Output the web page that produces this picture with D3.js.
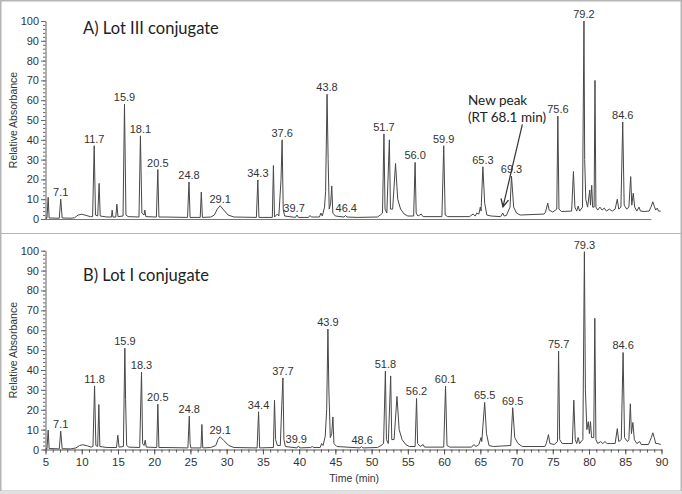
<!DOCTYPE html>
<html><head><meta charset="utf-8">
<script src="https://cdn.jsdelivr.net/npm/d3@7"></script>
<style>body{margin:0;background:#fff}svg{display:block}</style>
</head><body>
<svg id="c" width="682" height="494"></svg>
<script>
// ---- data (time in min, relative absorbance) ----
const traceA = [[5.0,0.4],[5.2,0.4],[5.37,11],[5.5,0.5],[6.9,0.4],[7.1,10],[7.3,0.5],
[8.5,0.4],[9.0,0.6],[9.5,2],[10.0,2.4],[10.6,1.8],[11.2,1.2],
[11.5,1.2],[11.72,37],[11.9,2],[12.2,1.5],[12.4,18],[12.55,1.5],
[13.5,1],[14.1,1],[14.2,4.5],[14.3,1],[14.7,1],[14.85,7.5],[15.0,1.2],
[15.7,1.5],[15.9,58],[16.1,2],[16.4,1.2],
[17.9,1],[18.1,42],[18.3,3],[18.6,2],[18.7,4.5],[18.85,1.2],
[20.3,1],[20.5,25],[20.65,1],[21.5,1],
[24.6,0.8],[24.8,18.7],[24.95,0.8],
[26.35,0.8],[26.5,13.6],[26.65,0.8],
[27.8,1],[28.3,2],[28.7,5],[29.1,6.7],[29.6,4.5],[30.2,2],[31,1],
[34.1,0.8],[34.3,19.7],[34.45,0.8],
[36.3,0.8],[36.45,27],[36.6,1],[37.0,2.5],[37.2,1.5],[37.5,20],[37.65,40],[37.8,5],[38.0,1.5],
[39.5,0.8],[39.7,2],[39.9,0.8],
[41.3,0.8],[41.5,1.8],[41.7,1],[42.8,1],[43.0,3],[43.2,1.5],[43.5,6],[43.65,14],[43.85,63],[44.0,30],[44.15,5],[44.35,8],[44.5,16.7],[44.65,3],[45,1.5],
[46.2,1],[46.4,1.8],[46.6,1],[48,0.8],[50.8,1],[51.2,2],
[51.5,3],[51.7,43],[51.85,5],[52.1,3],[52.45,40],[52.6,5],[52.9,5],[53.3,28],[53.6,10],[54,5],[54.5,2.5],[55,1.5],
[55.8,1.5],[56.0,28.6],[56.15,3],[56.4,1.5],[56.85,2.5],[57.1,1.2],
[59.7,1.2],[59.95,37],[60.15,2],[60.5,1.2],
[63.5,1.2],[64.0,2.5],[64.3,1.5],[64.5,3],[64.8,2.5],[65.0,6],[65.1,4],[65.35,26.4],[65.6,8],[65.9,2],[66.5,1.5],
[67.8,1.2],[68.1,3],[68.3,1.5],[68.6,1.8],[69.1,6],[69.3,21.7],[69.6,6],[70,3],[70.5,2],[73.8,2.5],[74.0,3.5],[74.3,8],[74.5,4.5],[75.0,3.5],
[75.55,5],[75.7,52],[75.85,5],[76.2,3.8],[77.6,4],[77.85,24],[78.05,6],[78.3,4],[78.5,6.5],[78.7,4],
[79.1,6],[79.3,100],[79.4,30],[79.55,10],[79.8,6],[80.1,14.6],[80.2,7],[80.37,17],[80.5,6],[80.7,6],[80.82,70],[80.95,6],[81.2,4.5],[81.5,6],[81.8,4.5],[82.1,5.5],[82.4,4],[82.8,5],[83.2,4],[83.6,5],
[83.9,10],[84.1,5],[84.4,6],[84.65,49],[84.85,7],[85.2,5],[85.5,6],[85.75,21.4],[85.9,7],[86.1,13],[86.3,6],[86.6,4],[86.9,6],[87.1,4],[87.6,3.8],[88.3,4],[88.6,6.5],[88.8,8.7],[89,6.5],[89.2,4.5],[89.4,5.5],[89.6,4],[89.9,4]];

const traceB = [[5.0,0.3],[5.2,0.3],[5.37,9.7],[5.5,0.5],[6.9,0.3],[7.1,9.2],[7.3,0.4],
[8.5,0.3],[9.2,0.8],[9.7,2],[10.15,2.4],[10.8,1.8],[11.3,1.2],
[11.55,1.5],[11.77,32],[11.95,2],[12.2,1.5],[12.36,22.6],[12.5,1.5],[13.5,1],[14.8,1],[14.98,7.2],[15.15,1.2],
[15.75,1.5],[15.95,51],[16.05,25],[16.2,2],[16.5,1.2],
[18.0,1],[18.25,39],[18.4,3],[18.6,2],[18.76,4.7],[18.9,1.2],
[20.35,1],[20.5,22.8],[20.65,1],[21.5,1],[24.65,0.8],[24.84,16.8],[24.95,3],[25.05,0.8],
[26.45,0.8],[26.58,12.6],[26.7,0.8],
[27.8,1],[28.5,2],[28.8,5],[29.1,6.4],[29.6,4.5],[30.3,2],[31,1],
[34.2,0.8],[34.4,19],[34.55,0.8],
[36.45,1],[36.6,24.8],[36.75,5],[37,2],[37.4,2],[37.6,22],[37.76,36],[37.9,5],[38.1,1.5],
[39.7,0.8],[39.9,1.8],[40.1,0.8],[41.6,1],[41.8,1.5],[42,1],[42.9,1],[43.1,3],[43.3,2],[43.6,6.7],[43.8,20],[43.97,60.6],[44.1,30],[44.3,6],[44.5,8],[44.66,16.4],[44.8,3],[45.2,1.5],
[48.4,0.8],[48.6,1.5],[48.8,0.8],[50.8,1],[51.3,2],
[51.65,3],[51.9,39.4],[52.05,5],[52.3,3],[52.63,37],[52.78,5],[53.1,5],[53.5,26.7],[53.8,10],[54.2,5],[54.7,2.5],[55.2,1.5],
[56,1.5],[56.2,25.7],[56.35,3],[56.7,1.5],[57.1,2.5],[57.3,1.2],
[59.95,1.2],[60.2,31.9],[60.4,2],[60.8,1.2],
[63.8,1.2],[64.1,2.5],[64.4,1.5],[64.8,2.5],[65.1,6],[65.2,4],[65.6,23.7],[65.85,8],[66.2,2],[66.8,1.5],
[69.2,2],[69.47,21],[69.75,6],[70.2,3],[70.8,1.5],[73.9,1.5],[74.1,3],[74.4,7.5],[74.6,3],[75.2,2.5],
[75.65,4],[75.8,49.5],[75.95,5],[76.3,3],[77.7,3],[77.9,24.8],[78.1,5],[78.3,3],[78.5,6],[78.7,3],
[79.15,5],[79.36,99.5],[79.5,30],[79.7,10],[79.9,14],[80.05,8],[80.2,14],[80.35,6],[80.65,6],[80.8,66],[80.95,5],[81.2,3],[81.6,4],[81.9,3],[82.2,4],[82.5,3],[83,3],[83.6,3],
[83.9,10.5],[84.1,4],[84.45,5],[84.7,48.8],[84.9,6],[85.3,4],[85.5,5],[85.7,23],[85.85,8],[86.05,13.6],[86.25,5],[86.6,3],[87.0,4],[87.2,2.5],[88.2,2.5],[88.6,6],[88.8,8.4],[89.0,6],[89.2,3],[89.5,3],[89.9,2.5]];

// peak labels: [text, apex time, apex height]
const labelsA = [["7.1",7.1,10],["11.7",11.72,37],["15.9",15.9,58],["18.1",18.1,42],["20.5",20.5,25],["24.8",24.8,18.7],["29.1",29.1,6.7],["34.3",34.3,19.7],["37.6",37.65,40],["39.7",39.3,2],["43.8",43.85,63],["46.4",46.5,1.8],["51.7",51.7,43],["56.0",56.0,28.6],["59.9",59.95,37],["65.3",65.35,26.4],["69.3",69.3,21.7],["75.6",75.7,52],["79.2",79.3,100],["84.6",84.65,49]];
const labelsB = [["7.1",7.1,9.2],["11.8",11.77,32],["15.9",15.95,51],["18.3",18.25,39],["20.5",20.5,22.8],["24.8",24.84,16.8],["29.1",29.1,6.4],["34.4",34.4,19],["37.7",37.76,36],["39.9",39.6,1.8],["43.9",43.97,60.6],["48.6",48.7,1.5],["51.8",51.9,39.4],["56.2",56.2,25.7],["60.1",60.2,31.9],["65.5",65.6,23.7],["69.5",69.47,21],["75.7",75.8,49.5],["79.3",79.36,99.5],["84.6",84.7,48.8]];

const titles = ["A) Lot III conjugate","B) Lot I conjugate"];
const xTicks = d3.range(5, 91, 5);
const yTicks = d3.range(0, 101, 10);
const annotationLines = ["New peak","(RT 68.1 min)"];
const annotationText = [63.3, 57.6];   // time, value of first line
const annotationArrow = [[70.8,47.8],[68.13,6.2]];

// ---- drawing ----
const svg = d3.select("#c");
const FONT = "'Liberation Sans', Arial, sans-serif";
const x = d3.scaleLinear().domain([5,90]).range([45.5,661.5]);

svg.append("rect").attr("x",0.75).attr("y",0.75).attr("width",680.5).attr("height",490.5)
  .attr("fill","none").attr("stroke","#b5b5b5").attr("stroke-width",1.5);
svg.append("rect").attr("x",0).attr("y",491).attr("width",682).attr("height",3).attr("fill","#e2e2e2");
svg.append("line").attr("x1",1).attr("x2",681).attr("y1",233.5).attr("y2",233.5)
  .attr("stroke","#b5b5b5").attr("stroke-width",1.2);

svg.append("defs").append("marker").attr("id","arr").attr("viewBox","0 0 10 10")
  .attr("refX",9).attr("refY",5).attr("markerWidth",8).attr("markerHeight",8).attr("orient","auto")
  .append("path").attr("d","M1,1 L9,5 L1,9").attr("fill","none").attr("stroke","#333").attr("stroke-width",1.4);

const panels = [
  {trace:traceA, labels:labelsA, title:titles[0], y0:219, y100:21, titleY:33.5, xaxis:false},
  {trace:traceB, labels:labelsB, title:titles[1], y0:449.5, y100:250.7, titleY:280.5, xaxis:true}
];

panels.forEach((p,i) => {
  const y = d3.scaleLinear().domain([0,100]).range([p.y0,p.y100]);
  const g = svg.append("g");

  const yMinor = d3.axisLeft(y).tickValues(d3.range(0,101,2)).tickSize(2.5).tickFormat("");
  g.append("g").attr("transform",`translate(${x(5)},0)`).call(yMinor)
    .call(s=>s.select(".domain").remove())
    .call(s=>s.selectAll("line").attr("stroke","#666"));
  const yAxis = d3.axisLeft(y).tickValues(yTicks).tickSize(4.5).tickSizeOuter(0).tickPadding(2);
  g.append("g").attr("transform",`translate(${x(5)},0)`).call(yAxis)
    .call(s=>s.select(".domain").attr("stroke","#666"))
    .call(s=>s.selectAll("line").attr("stroke","#666"))
    .call(s=>s.selectAll("text").attr("font-family",FONT).attr("font-size",11).attr("fill","#333"));

  g.append("text").attr("transform",`translate(17,${(p.y0+p.y100)/2}) rotate(-90)`)
    .attr("text-anchor","middle").attr("font-family",FONT).attr("font-size",10.5).attr("fill","#333")
    .text("Relative Absorbance");

  if (p.xaxis) {
    const xMinor = d3.axisBottom(x).tickValues(d3.range(5,91,1)).tickSize(3).tickFormat("");
    g.append("g").attr("transform",`translate(0,${p.y0})`).call(xMinor)
      .call(s=>s.select(".domain").remove())
      .call(s=>s.selectAll("line").attr("stroke","#555"));
    const xAxis = d3.axisBottom(x).tickValues(xTicks).tickSize(5).tickSizeOuter(0).tickPadding(3);
    g.append("g").attr("transform",`translate(0,${p.y0})`).call(xAxis)
      .call(s=>s.select(".domain").attr("stroke","#555"))
      .call(s=>s.selectAll("line").attr("stroke","#555"))
      .call(s=>s.selectAll("text").attr("font-family",FONT).attr("font-size",11.5).attr("fill","#333"));
    g.append("text").attr("x",x(47.6)).attr("y",p.y0+32).attr("text-anchor","middle")
      .attr("font-family",FONT).attr("font-size",10.5).attr("fill","#333").text("Time (min)");
  } else {
    g.append("line").attr("x1",x(5)).attr("x2",x(88.6)).attr("y1",p.y0+0.5).attr("y2",p.y0+0.5)
      .attr("stroke","#777").attr("stroke-width",1);
  }

  const line = d3.line().x(d=>x(d[0])).y(d=>y(d[1]));
  g.append("path").datum(p.trace).attr("d",line).attr("fill","none")
    .attr("stroke","#474747").attr("stroke-width",1).attr("stroke-linejoin","round");

  g.selectAll(".pl").data(p.labels).enter().append("text")
    .attr("x",d=>x(d[1])).attr("y",d=>y(d[2])-3).attr("text-anchor","middle")
    .attr("font-family",FONT).attr("font-size",11).attr("fill","#333").text(d=>d[0]);

  g.append("text").attr("x",83).attr("y",p.titleY).attr("font-family","Lato, 'Open Sans', sans-serif")
    .attr("font-size",16.5).attr("fill","#222").text(p.title);

  if (i===0) {
    annotationLines.forEach((t,k)=>{
      g.append("text").attr("x",x(annotationText[0])).attr("y",y(annotationText[1])+k*17)
        .attr("font-family","Lato, 'Open Sans', sans-serif").attr("font-size",13.5).attr("fill","#222").text(t);
    });
    g.append("line").attr("x1",x(annotationArrow[0][0])).attr("y1",y(annotationArrow[0][1]))
      .attr("x2",x(annotationArrow[1][0])).attr("y2",y(annotationArrow[1][1]))
      .attr("stroke","#333").attr("stroke-width",1.2).attr("marker-end","url(#arr)");
  }
});
</script>
</body></html>
